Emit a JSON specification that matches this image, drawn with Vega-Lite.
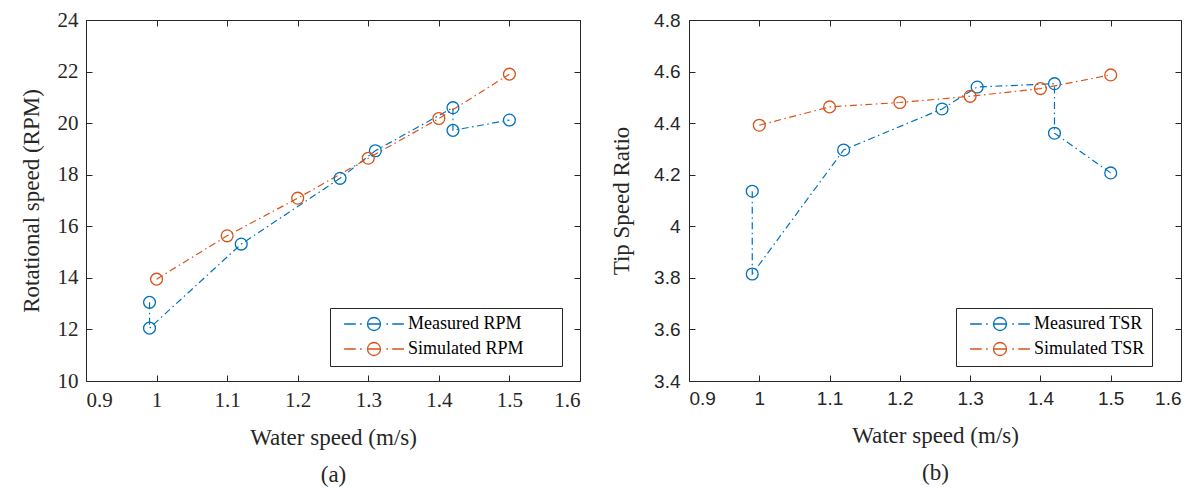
{
  "$schema": "https://vega.github.io/schema/vega-lite/v6.json",
  "background": "white",
  "padding": {"left": 20, "top": 9, "right": 5, "bottom": 5},
  "config": {
    "view": {"stroke": null},
    "axis": {
      "grid": false,
      "domainColor": "#262626",
      "domainWidth": 1,
      "tickColor": "#262626",
      "tickWidth": 1,
      "tickSize": -6,
      "labelColor": "#262626",
      "titleColor": "#262626",
      "titleFont": "Liberation Serif",
      "titleFontSize": 23,
      "titleFontWeight": "normal",
      "labelFont": "Liberation Serif",
      "labelFontSize": 21
    },
    "legend": {
      "orient": "none",
      "title": null,
      "strokeColor": "#262626",
      "fillColor": "white",
      "padding": 7,
      "labelFont": "Liberation Serif",
      "labelFontSize": 18,
      "labelColor": "#000000",
      "symbolType": "M-4.6,0L-2.8,0M-2.15,0L-1.9,0M-1,0L1,0M1.9,0L2.15,0M2.8,0L4.6,0M-1,0A1,1 0 1,0 1,0A1,1 0 1,0 -1,0",
      "symbolSize": 169,
      "symbolStrokeWidth": 1.3,
      "symbolFillColor": "transparent",
      "symbolOffset": 28,
      "labelOffset": 25,
      "rowPadding": 5,
      "legendY": 288
    }
  },
  "datasets": {
    "rpm": [
      {"speed": 0.99, "value": 13.05, "series": "Measured RPM", "ord": 1},
      {"speed": 0.99, "value": 12.05, "series": "Measured RPM", "ord": 2},
      {"speed": 1.12, "value": 15.31, "series": "Measured RPM", "ord": 3},
      {"speed": 1.26, "value": 17.86, "series": "Measured RPM", "ord": 4},
      {"speed": 1.31, "value": 18.93, "series": "Measured RPM", "ord": 5},
      {"speed": 1.42, "value": 20.6, "series": "Measured RPM", "ord": 6},
      {"speed": 1.42, "value": 19.72, "series": "Measured RPM", "ord": 7},
      {"speed": 1.5, "value": 20.12, "series": "Measured RPM", "ord": 8},
      {"speed": 1.0, "value": 13.95, "series": "Simulated RPM", "ord": 1},
      {"speed": 1.1, "value": 15.63, "series": "Simulated RPM", "ord": 2},
      {"speed": 1.2, "value": 17.09, "series": "Simulated RPM", "ord": 3},
      {"speed": 1.3, "value": 18.64, "series": "Simulated RPM", "ord": 4},
      {"speed": 1.4, "value": 20.18, "series": "Simulated RPM", "ord": 5},
      {"speed": 1.5, "value": 21.9, "series": "Simulated RPM", "ord": 6}
    ],
    "tsr": [
      {"speed": 0.99, "value": 4.136, "series": "Measured TSR", "ord": 1},
      {"speed": 0.99, "value": 3.815, "series": "Measured TSR", "ord": 2},
      {"speed": 1.12, "value": 4.296, "series": "Measured TSR", "ord": 3},
      {"speed": 1.26, "value": 4.455, "series": "Measured TSR", "ord": 4},
      {"speed": 1.31, "value": 4.54, "series": "Measured TSR", "ord": 5},
      {"speed": 1.42, "value": 4.553, "series": "Measured TSR", "ord": 6},
      {"speed": 1.42, "value": 4.361, "series": "Measured TSR", "ord": 7},
      {"speed": 1.5, "value": 4.207, "series": "Measured TSR", "ord": 8},
      {"speed": 1.0, "value": 4.392, "series": "Simulated TSR", "ord": 1},
      {"speed": 1.1, "value": 4.463, "series": "Simulated TSR", "ord": 2},
      {"speed": 1.2, "value": 4.48, "series": "Simulated TSR", "ord": 3},
      {"speed": 1.3, "value": 4.504, "series": "Simulated TSR", "ord": 4},
      {"speed": 1.4, "value": 4.534, "series": "Simulated TSR", "ord": 5},
      {"speed": 1.5, "value": 4.587, "series": "Simulated TSR", "ord": 6}
    ]
  },
  "resolve": {
    "scale": {"x": "independent", "y": "independent", "color": "independent"},
    "legend": {"color": "independent"}
  },
  "spacing": 29,
  "hconcat": [
    {
      "width": 494,
      "height": 361,
      "data": {"name": "rpm"},
      "resolve": {"axis": {"x": "independent", "y": "independent"}},
      "layer": [
        {
          "mark": {"type": "line", "strokeWidth": 1.2, "strokeDash": [7, 3.5, 1.5, 3.5]},
          "encoding": {
            "x": {"field": "speed", "type": "quantitative",
                  "scale": {"domain": [0.9, 1.6], "nice": false, "zero": false},
                  "axis": {"orient": "bottom", "values": [0.9, 1.0, 1.1, 1.2, 1.3, 1.4, 1.5, 1.6], "format": ".1~f",
                           "labelPadding": 14, "title": ["Water speed (m/s)", "(a)"], "titleLineHeight": 37, "titlePadding": 16}},
            "y": {"field": "value", "type": "quantitative",
                  "scale": {"domain": [10, 24], "nice": false, "zero": false},
                  "axis": {"orient": "left", "values": [10, 12, 14, 16, 18, 20, 22, 24], "format": "d",
                           "labelPadding": 14, "title": "Rotational speed (RPM)", "titlePadding": 14}},
            "color": {"field": "series", "type": "nominal",
                      "scale": {"domain": ["Measured RPM", "Simulated RPM"], "range": ["#0072BD", "#D95319"]},
                      "legend": {"legendX": 244,
                                 "symbolType": "M-4.6,0L-2.8,0M-2.15,0L-1.9,0M-1,0L1,0M1.9,0L2.15,0M2.8,0L4.6,0M-1,0A1,1 0 1,0 1,0A1,1 0 1,0 -1,0M27.4,0"}},
            "order": {"field": "ord", "type": "quantitative"}
          }
        },
        {
          "mark": {"type": "point", "shape": "circle", "filled": false, "size": 140, "strokeWidth": 1.3, "opacity": 1},
          "encoding": {
            "x": {"field": "speed", "type": "quantitative",
                  "axis": {"orient": "top", "values": [0.9, 1.0, 1.1, 1.2, 1.3, 1.4, 1.5, 1.6], "labels": false, "title": null}},
            "y": {"field": "value", "type": "quantitative",
                  "axis": {"orient": "right", "values": [10, 12, 14, 16, 18, 20, 22, 24], "labels": false, "title": null}},
            "color": {"field": "series", "type": "nominal"}
          }
        }
      ]
    },
    {
      "width": 492,
      "height": 361,
      "data": {"name": "tsr"},
      "resolve": {"axis": {"x": "independent", "y": "independent"}},
      "layer": [
        {
          "mark": {"type": "line", "strokeWidth": 1.2, "strokeDash": [7, 3.5, 1.5, 3.5]},
          "encoding": {
            "x": {"field": "speed", "type": "quantitative",
                  "scale": {"domain": [0.9, 1.6], "nice": false, "zero": false},
                  "axis": {"orient": "bottom", "values": [0.9, 1.0, 1.1, 1.2, 1.3, 1.4, 1.5, 1.6], "format": ".1~f",
                           "labelFont": "Liberation Sans", "labelFontSize": 19,
                           "labelPadding": 14, "title": ["Water speed (m/s)", "(b)"], "titleLineHeight": 37, "titlePadding": 16}},
            "y": {"field": "value", "type": "quantitative",
                  "scale": {"domain": [3.4, 4.8], "nice": false, "zero": false},
                  "axis": {"orient": "left", "values": [3.4, 3.6, 3.8, 4.0, 4.2, 4.4, 4.6, 4.8], "format": ".1~f",
                           "labelFont": "Liberation Sans", "labelFontSize": 19,
                           "labelPadding": 15, "title": "Tip Speed Ratio", "titlePadding": 20}},
            "color": {"field": "series", "type": "nominal",
                      "scale": {"domain": ["Measured TSR", "Simulated TSR"], "range": ["#0072BD", "#D95319"]},
                      "legend": {"legendX": 267}},
            "order": {"field": "ord", "type": "quantitative"}
          }
        },
        {
          "mark": {"type": "point", "shape": "circle", "filled": false, "size": 140, "strokeWidth": 1.3, "opacity": 1},
          "encoding": {
            "x": {"field": "speed", "type": "quantitative",
                  "axis": {"orient": "top", "values": [0.9, 1.0, 1.1, 1.2, 1.3, 1.4, 1.5, 1.6], "labels": false, "title": null}},
            "y": {"field": "value", "type": "quantitative",
                  "axis": {"orient": "right", "values": [3.4, 3.6, 3.8, 4.0, 4.2, 4.4, 4.6, 4.8], "labels": false, "title": null}},
            "color": {"field": "series", "type": "nominal"}
          }
        }
      ]
    }
  ]
}
